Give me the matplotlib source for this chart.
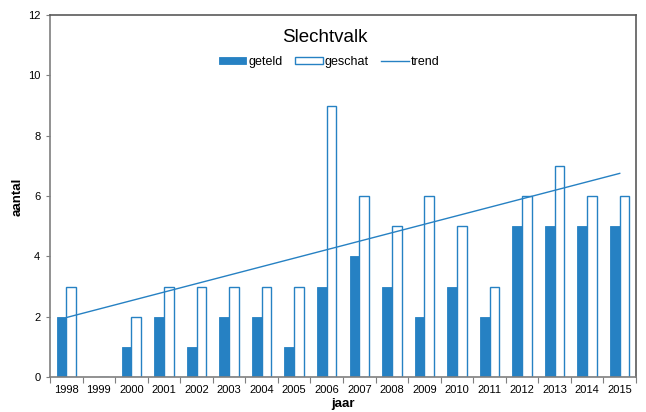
import numpy as np
import matplotlib.pyplot as plt

plt.rcParams['font.family'] = ['Liberation Sans', 'DejaVu Sans']

years = ['1998', '1999', '2000', '2001', '2002', '2003', '2004', '2005', '2006',
         '2007', '2008', '2009', '2010', '2011', '2012', '2013', '2014', '2015']
geteld = [2, 0, 1, 2, 1, 2, 2, 1, 3, 4, 3, 2, 3, 2, 5, 5, 5, 5]
geschat = [3, 0, 2, 3, 3, 3, 3, 3, 9, 6, 5, 6, 5, 3, 6, 7, 6, 6]
# trend line read at first and last year
trend_years = [0, 17]
trend_vals = [1.97, 6.75]

blue = '#2681c3'
frame = '#7f7f7f'

fig = plt.figure(figsize=(6.46, 4.12), dpi=100)
ax = fig.add_axes([50 / 646, 35 / 412, 586 / 646, 362 / 412])

x = np.arange(len(years))
b1 = ax.bar(x - 0.15, geteld, width=0.3, color=blue, edgecolor=blue, linewidth=0.6, label='geteld')
b2 = ax.bar(x + 0.15, geschat, width=0.3, color='white', edgecolor=blue, linewidth=1.0, label='geschat')
ln, = ax.plot(trend_years, trend_vals, color=blue, linewidth=1.0, label='trend')

ax.set_xlim(-0.5, len(years) - 0.5)
ax.set_ylim(0, 12)
ax.set_yticks(np.arange(0, 13, 2))
ax.tick_params(axis='y', direction='out', length=3, width=0.8, color=frame, labelsize=8, pad=4)

# ticks between categories, labels at the centres
ax.set_xticks(np.arange(-0.5, len(years), 1))
ax.set_xticklabels([])
ax.set_xticks(x, minor=True)
ax.set_xticklabels(years, minor=True, fontsize=8)
ax.tick_params(axis='x', which='major', direction='out', length=4, width=0.8, color=frame)
ax.tick_params(axis='x', which='minor', length=0, pad=6)

for s in ax.spines.values():
    s.set_color(frame)
    s.set_linewidth(1.2)
ax.spines['top'].set_color('#5a5a5a')
ax.spines['right'].set_color('#5a5a5a')

fig.text(18 / 646, 1 - 197 / 412, 'aantal', rotation=90, fontsize=9.5, fontweight='bold',
         ha='center', va='center')
fig.text(343 / 646, 4.5 / 412, 'jaar', fontsize=9.5, fontweight='bold', ha='center', va='baseline')

fig.text(325 / 646, 1 - 37 / 412, 'Slechtvalk', fontsize=13.5, ha='center', va='center')
fig.legend([b1, b2, ln], ['geteld', 'geschat', 'trend'], loc='center',
           bbox_to_anchor=(329 / 646, 1 - 62 / 412), ncol=3, frameon=False,
           fontsize=9, handlelength=2.2, handleheight=0.55, handletextpad=0.15,
           columnspacing=1.0, borderpad=0)

fig.savefig('out.png', dpi=100)
